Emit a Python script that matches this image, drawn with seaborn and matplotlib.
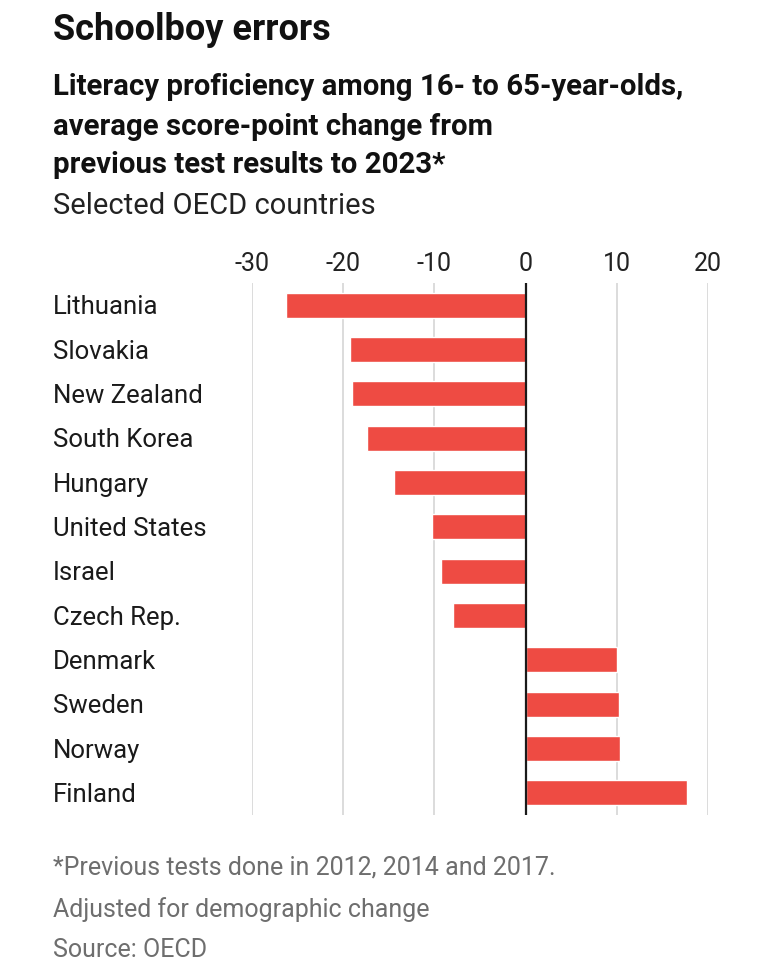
import pandas as pd
import seaborn as sns
import matplotlib.pyplot as plt
from matplotlib.transforms import blended_transform_factory

countries = ["Lithuania", "Slovakia", "New Zealand", "South Korea", "Hungary",
             "United States", "Israel", "Czech Rep.", "Denmark", "Sweden",
             "Norway", "Finland"]
change = [-26.3, -19.3, -19.0, -17.4, -14.4, -10.3, -9.3, -8.0, 10.0, 10.2, 10.4, 17.7]
xticks = [-30, -20, -10, 0, 10, 20]

df = pd.DataFrame({"country": countries, "change": change})

sns.set_style("white")
plt.rcParams['font.family'] = ['Roboto', 'DejaVu Sans']

fig = plt.figure(figsize=(7.6, 9.8), dpi=100)
ax = fig.add_axes([252 / 760, 1 - 815 / 980, 456 / 760, 532 / 980])

sns.barplot(data=df, x="change", y="country", color="#ee4b43", width=0.57,
            saturation=1, ax=ax, zorder=3)

ax.set_xlim(-30, 20)
ax.set_ylim(11.5, -0.5)
ax.set_xticks(xticks)
ax.set_xticklabels([str(t) for t in xticks], fontsize=18, color="#222222")
ax.xaxis.tick_top()
ax.tick_params(axis="x", length=0, pad=5)
ax.set_xlabel("")
ax.set_ylabel("")
ax.set_yticks([])
for t in xticks:
    if t != 0:
        ax.axvline(t, color="#d6d6d6", lw=1.2, zorder=1)
ax.axvline(0, color="#1a1a1a", lw=1.6, zorder=4)
for s in ax.spines.values():
    s.set_visible(False)

trans = blended_transform_factory(fig.transFigure, ax.transData)
for i, c in enumerate(countries):
    ax.text(53 / 760, i + 0.05, c, transform=trans, ha="left", va="center",
            fontsize=18.5, color="#1a1a1a")

fig.text(53 / 760, 1 - 30 / 980, "Schoolboy errors", fontsize=26, fontweight="bold",
         va="center", ha="left", color="#111111")
fig.text(53 / 760, 1 - 87 / 980, "Literacy proficiency among 16- to 65-year-olds,",
         fontsize=21.2, fontweight="bold", va="center", color="#111111")
fig.text(53 / 760, 1 - 127 / 980, "average score-point change from",
         fontsize=21.2, fontweight="bold", va="center", color="#111111")
fig.text(53 / 760, 1 - 165 / 980, "previous test results to 2023*",
         fontsize=21.2, fontweight="bold", va="center", color="#111111")
fig.text(53 / 760, 1 - 206 / 980, "Selected OECD countries",
         fontsize=21, va="center", color="#222222")

fig.text(53 / 760, 1 - 868 / 980, "*Previous tests done in 2012, 2014 and 2017.",
         fontsize=18, va="center", color="#6e6e6e")
fig.text(53 / 760, 1 - 910 / 980, "Adjusted for demographic change",
         fontsize=18, va="center", color="#6e6e6e")
fig.text(53 / 760, 1 - 950 / 980, "Source: OECD",
         fontsize=18, va="center", color="#6e6e6e")

fig.savefig("out.png", dpi=100, facecolor="white")
